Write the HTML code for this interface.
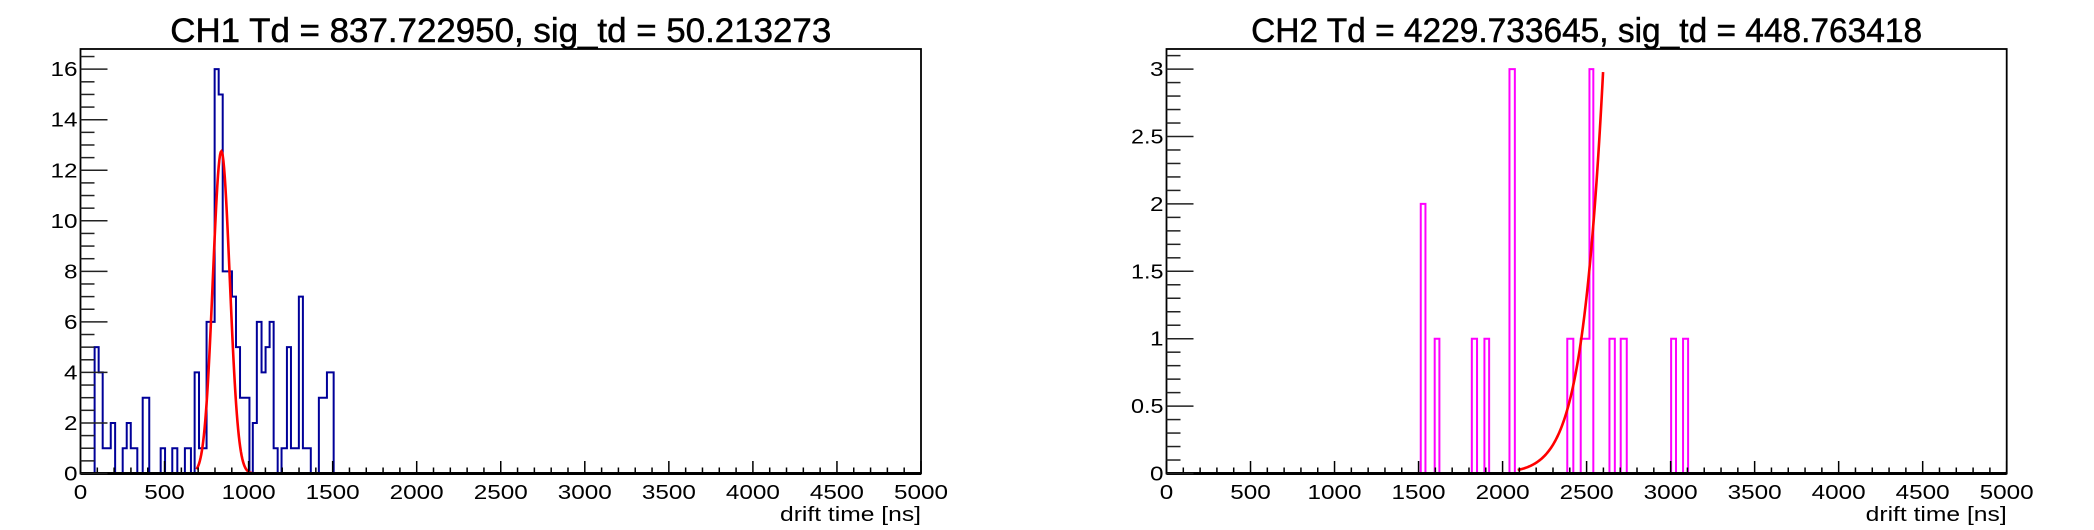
<!DOCTYPE html>
<html><head><meta charset="utf-8"><style>
html,body{margin:0;padding:0;background:#fff;}
svg{display:block;font-family:"Liberation Sans",sans-serif;}
</style></head><body>
<svg id="c" width="2094" height="530" viewBox="0 0 2094 530" xmlns="http://www.w3.org/2000/svg"></svg>
<script>
// ---- CH1 data ----
const ch1Edges = [84,108,132,180,206,251,275,299,338,370,409,477,503,546,576,621,657,679,705,750,798,822,846,901,925,949,1005,1025,1049,1077,1101,1125,1149,1173,1196,1228,1252,1299,1323,1370,1418,1466,1506];
const ch1Counts = [5,4,1,2,0,1,2,1,0,3,0,1,0,1,0,1,0,4,1,6,16,15,8,7,5,3,0,2,6,4,5,6,1,0,1,5,1,7,1,0,3,4];
const ch1Fit = [12.75, 837.72295, 50.213273]; // amplitude, mean, sigma
const ch1FitRange = [690, 1100];
const ch1YTicks = [0,2,4,6,8,10,12,14,16];
// ---- CH2 data ----
const ch2Edges = [1513,1541,1596,1624,1817,1848,1892,1920,2041,2073,2385,2421,2465,2517,2540,2636,2668,2703,2739,3003,3032,3074,3104];
const ch2Counts = [2,0,1,0,1,0,1,0,3,0,1,0,1,3,0,1,0,1,0,1,0,1];
const ch2Fit = [2212, 4229.733645, 448.763418];
const ch2FitRange = [2090, 2600];
const ch2YTicks = [0,0.5,1,1.5,2,2.5,3];
const ch2YLabels = ["0","0.5","1","1.5","2","2.5","3"];
const xTicks = [0,500,1000,1500,2000,2500,3000,3500,4000,4500,5000];

const NS="http://www.w3.org/2000/svg";
const svg=document.getElementById('c');
function mk(tag,attrs,parent){const e=document.createElementNS(NS,tag);for(const k in attrs)e.setAttribute(k,attrs[k]);(parent||svg).appendChild(e);return e;}

function drawPanel(o){
  const g=mk('g',{});
  
  
  const X=v=>o.x0+(v-0)/5000*(o.x1-o.x0);
  const Y=v=>o.yb-(v*o.ppu);
  // histogram
  let d='M'+X(o.edges[0])+','+Y(0);
  o.counts.forEach((c,i)=>{d+=' L'+X(o.edges[i])+','+Y(c)+' L'+X(o.edges[i+1])+','+Y(c);});
  d+=' L'+X(o.edges[o.edges.length-1])+','+Y(0);
  const h=mk('path',{d:d,fill:'none',stroke:o.color,'stroke-width':2},g);
  
  
  // fit
  const [A,m,s]=o.fit;let fd='';
  for(let x=o.fitRange[0];x<=o.fitRange[1];x+=4){
    const v=A*Math.exp(-((x-m)**2)/(2*s*s));
    fd+=(fd?' L':'M')+X(x)+','+Y(v);
  }
  const f=mk('path',{d:fd,fill:'none',stroke:'#ff0000','stroke-width':2.6},g);
  
  
  // frame
  const fr=mk('rect',{x:o.x0,y:49,width:o.x1-o.x0,height:o.yb-49,fill:'none',stroke:'#000','stroke-width':1.8},g);
  
  
  const xa=mk('line',{x1:o.x0,x2:o.x1,y1:o.yb,y2:o.yb,stroke:'#000','stroke-width':3},g);
  
  
  // x ticks
  for(let v=0;v<=5000;v+=100){
    const major=v%500===0;
    const t=mk('line',{x1:X(v),x2:X(v),y1:o.yb,y2:o.yb-(major?12.5:6),stroke:'#000','stroke-width':1.5},g);
    
    
  }
  xTicks.forEach(v=>{
    const s=String(v);
    const t=mk('text',{x:X(v),y:499,'text-anchor':'middle','font-size':20,textLength:s.length*13.5,lengthAdjust:'spacingAndGlyphs',fill:'#000'},g);
    t.textContent=s;
    
    
  });
  // y ticks
  const ymax=(o.yb-49)/o.ppu;
  for(let v=0;v<=ymax+1e-9;v+=o.minor){
    const major=Math.abs(v/o.major-Math.round(v/o.major))<1e-6;
    const t=mk('line',{x1:o.x0,x2:o.x0+(major?27:14),y1:Y(v),y2:Y(v),stroke:'#222','stroke-width':1.5},g);
    
    
  }
  o.yTicks.forEach((v,i)=>{
    const s=o.yLabels?o.yLabels[i]:String(v);
    const t=mk('text',{x:o.x0-3,y:Y(v)+7,'text-anchor':'end','font-size':20,textLength:s.length*13.5-(s.includes('.')?8:0),lengthAdjust:'spacingAndGlyphs',fill:'#000'},g);
    t.textContent=s;
    
    
  });
  // title
  const tt=mk('text',{x:(o.x0+o.x1)/2,y:42,'text-anchor':'middle','font-size':34,textLength:o.titleW,lengthAdjust:'spacingAndGlyphs',fill:'#000',stroke:'#000','stroke-width':0.5},g);
  tt.textContent=o.title;
  
  
  const xl=mk('text',{x:o.x1,y:521,'text-anchor':'end','font-size':20,textLength:141,lengthAdjust:'spacingAndGlyphs',fill:'#000'},g);
  xl.textContent='drift time [ns]';
  
  
}
drawPanel({name:'ch1-panel',x0:80.5,x1:921,yb:473.5,ppu:25.27,major:2,minor:0.5,yTicks:ch1YTicks,
  edges:ch1Edges,counts:ch1Counts,fit:ch1Fit,fitRange:ch1FitRange,color:'#000099',
  title:'CH1 Td = 837.722950, sig_td = 50.213273',titleW:661});
drawPanel({name:'ch2-panel',x0:1166.5,x1:2006.7,yb:473.5,ppu:134.8,major:0.5,minor:0.1,yTicks:ch2YTicks,yLabels:ch2YLabels,
  edges:ch2Edges,counts:ch2Counts,fit:ch2Fit,fitRange:ch2FitRange,color:'#ff00ff',
  title:'CH2 Td = 4229.733645, sig_td = 448.763418',titleW:671});
</script>
</body></html>
